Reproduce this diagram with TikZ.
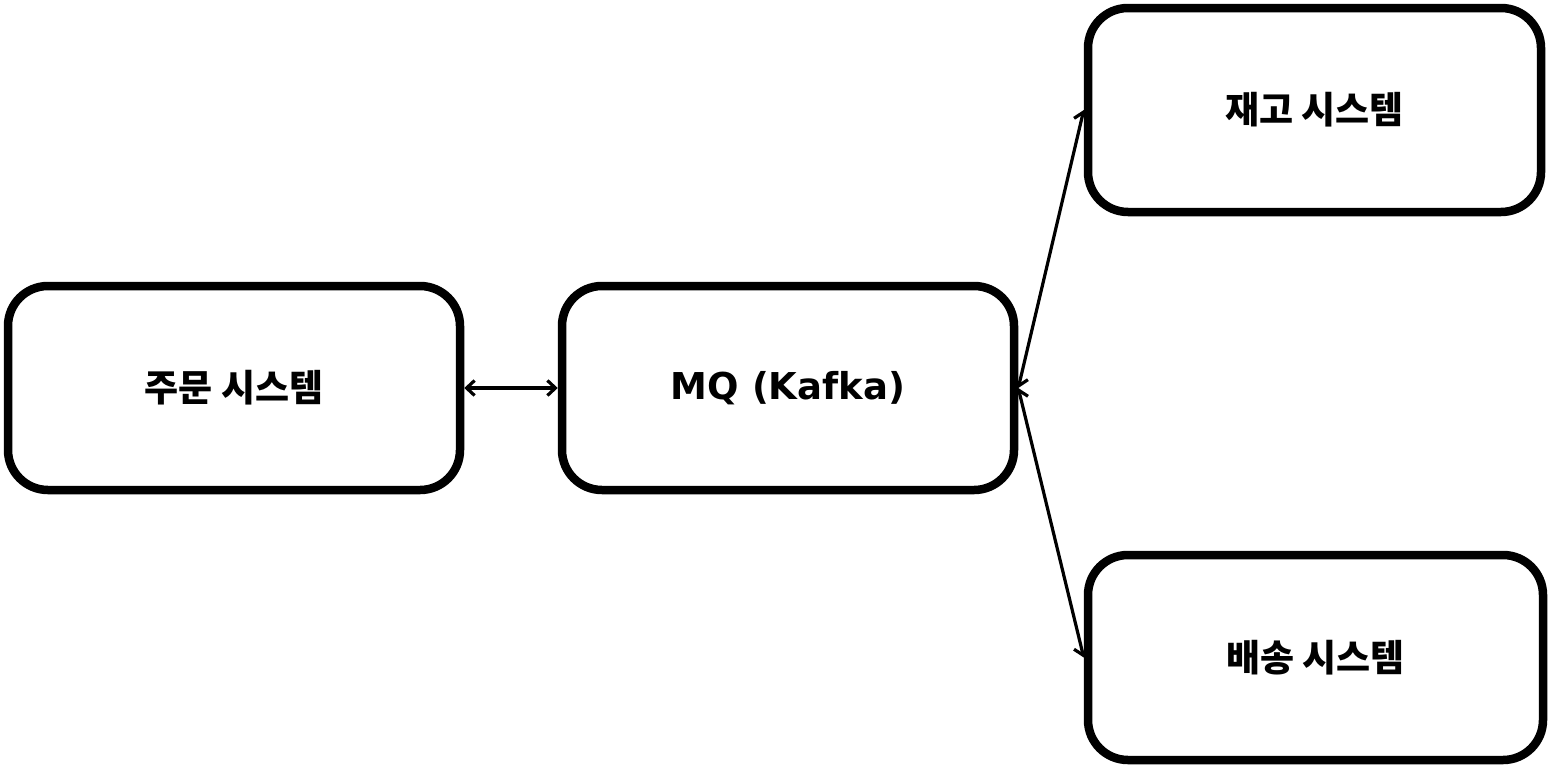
\documentclass[tikz,border=0pt]{standalone}
\usepackage{fontspec}
\newfontfamily\krfont{Noto Sans CJK KR}
\newfontfamily\latfont{DejaVu Sans}
\usetikzlibrary{arrows.meta}
\tikzset{
    sysbox/.style={rectangle,rounded corners=40pt,draw,line width=8.5pt,
        minimum width=452pt,minimum height=204pt,font=\krfont\bfseries\fontsize{37}{42}\selectfont},
    link/.style={<->,>={Straight Barb[length=8pt,width=15pt]},line width=3.2pt,draw=black},
}
\begin{document}
\begin{tikzpicture}[x=1pt,y=-1pt]
    \useasboundingbox (0,0) rectangle (1549,771);
    \node[sysbox] (order) at (234,388) {주문 시스템};
    \node[sysbox,font=\latfont\bfseries\fontsize{37}{42}\selectfont] (mq) at (788,388) {MQ (Kafka)};
    \node[sysbox,minimum width=453pt] (stock) at (1314.5,110) {재고 시스템};
    \node[sysbox,minimum width=455pt,minimum height=205pt] (ship) at (1315.5,657.5) {배송 시스템};
    \draw[link] (order) -- (mq);
    \draw[link] (mq.east) -- (stock.west);
    \draw[link] (mq.east) -- (ship.west);
\end{tikzpicture}
\end{document}
